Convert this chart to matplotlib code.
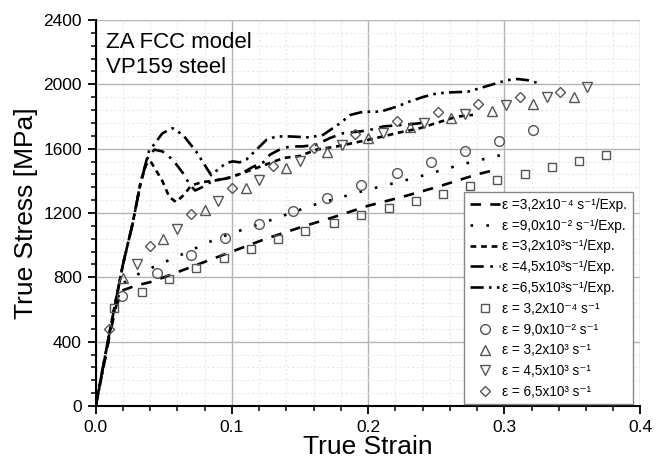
import matplotlib
matplotlib.use("Agg")
import matplotlib.pyplot as plt
from matplotlib.ticker import MultipleLocator, FormatStrFormatter

plt.rcParams['font.family'] = ['Liberation Sans', 'DejaVu Sans']

# ---- experimental curves ----
exp1_x = [0, 0.005, 0.01, 0.015, 0.02, 0.03, 0.04, 0.05, 0.075, 0.1, 0.125, 0.15, 0.175, 0.2, 0.225, 0.25, 0.265, 0.28, 0.295]
exp1_y = [0, 210, 430, 620, 720, 750, 770, 800, 880, 960, 1040, 1110, 1175, 1245, 1300, 1360, 1400, 1440, 1472]

exp2_x = [0, 0.005, 0.01, 0.015, 0.02, 0.025, 0.04, 0.06, 0.09, 0.125, 0.16, 0.2, 0.235, 0.27, 0.3]
exp2_y = [0, 210, 430, 640, 760, 795, 855, 930, 1045, 1145, 1250, 1345, 1420, 1505, 1565]

exp3_x = [0, 0.01, 0.02, 0.027, 0.033, 0.037, 0.040, 0.044, 0.049, 0.054, 0.059, 0.065, 0.07, 0.078, 0.086, 0.093,
          0.1, 0.115, 0.128, 0.138, 0.15, 0.162, 0.177, 0.189, 0.2, 0.211, 0.221, 0.238, 0.251, 0.265, 0.277]
exp3_y = [0, 450, 880, 1130, 1390, 1500, 1525, 1470, 1398, 1300, 1268, 1315, 1370, 1392, 1400, 1410,
          1425, 1470, 1511, 1542, 1555, 1594, 1614, 1635, 1655, 1676, 1697, 1727, 1762, 1799, 1810]

exp4_x = [0, 0.01, 0.02, 0.027, 0.033, 0.038, 0.043, 0.049, 0.0565, 0.064, 0.069, 0.073, 0.078, 0.086, 0.098,
          0.108, 0.115, 0.123, 0.128, 0.135, 0.1426, 0.152, 0.162, 0.172, 0.182, 0.194, 0.2015, 0.211, 0.221, 0.231, 0.24]
exp4_y = [0, 450, 880, 1130, 1390, 1540, 1594, 1583, 1532, 1449, 1377, 1340, 1360, 1400, 1418,
          1450, 1485, 1515, 1563, 1594, 1614, 1614, 1625, 1666, 1697, 1707, 1717, 1738, 1745, 1752, 1760]

exp5_x = [0, 0.01, 0.02, 0.027, 0.033, 0.039, 0.049, 0.0565, 0.064, 0.0737, 0.0848, 0.091, 0.096, 0.1007, 0.1057,
          0.1106, 0.118, 0.1254, 0.1327, 0.1426, 0.157, 0.167, 0.1794, 0.187, 0.1966, 0.209, 0.221, 0.231, 0.241,
          0.2507, 0.2605, 0.273, 0.28, 0.29, 0.302, 0.3097, 0.317, 0.3257]
exp5_y = [0, 450, 880, 1130, 1390, 1583, 1696, 1727, 1686, 1583, 1435, 1480, 1511, 1521, 1515,
          1532, 1594, 1655, 1676, 1676, 1670, 1686, 1758, 1810, 1830, 1830, 1861, 1895, 1923,
          1944, 1950, 1954, 1971, 1996, 2026, 2033, 2026, 2006]

# ---- model points ----
sq_x = [0.0135, 0.034, 0.054, 0.074, 0.094, 0.114, 0.134, 0.154, 0.175, 0.195, 0.215, 0.235, 0.255, 0.275, 0.295, 0.315, 0.335, 0.355, 0.375]
sq_y = [610, 707, 790, 858, 923, 979, 1037, 1086, 1138, 1187, 1233, 1277, 1321, 1365, 1404, 1445, 1486, 1521, 1560]
ci_x = [0.0196, 0.045, 0.0698, 0.0948, 0.120, 0.145, 0.170, 0.195, 0.221, 0.246, 0.271, 0.296, 0.321]
ci_y = [682, 824, 938, 1043, 1130, 1212, 1294, 1375, 1447, 1515, 1583, 1649, 1715]
tu_x = [0.020, 0.0496, 0.0799, 0.110, 0.140, 0.170, 0.200, 0.2306, 0.261, 0.291, 0.321, 0.351]
tu_y = [794, 1037, 1216, 1356, 1480, 1579, 1666, 1732, 1789, 1835, 1878, 1919]
td_x = [0.030, 0.0597, 0.090, 0.120, 0.150, 0.1807, 0.211, 0.241, 0.271, 0.301, 0.331, 0.361]
td_y = [882, 1103, 1274, 1408, 1521, 1620, 1697, 1758, 1816, 1872, 1923, 1981]
di_x = [0.0098, 0.0398, 0.070, 0.100, 0.130, 0.160, 0.1905, 0.221, 0.251, 0.281, 0.3115, 0.341]
di_y = [480, 996, 1196, 1356, 1494, 1604, 1693, 1769, 1831, 1878, 1919, 1954]

exp_labels = ["ε =3,2x10⁻⁴ s⁻¹/Exp.",
              "ε =9,0x10⁻² s⁻¹/Exp.",
              "ε =3,2x10³s⁻¹/Exp.",
              "ε =4,5x10³s⁻¹/Exp.",
              "ε =6,5x10³s⁻¹/Exp."]
mod_labels = ["ε = 3,2x10⁻⁴ s⁻¹",
              "ε = 9,0x10⁻² s⁻¹",
              "ε = 3,2x10³ s⁻¹",
              "ε = 4,5x10³ s⁻¹",
              "ε = 6,5x10³ s⁻¹"]

fig = plt.figure(figsize=(6.66, 4.59), dpi=100)
ax = fig.add_axes([0.1437, 0.1155, 0.9617 - 0.1437, 0.9564 - 0.1155])

lw = 1.9
ax.plot(exp1_x, exp1_y, color='black', lw=lw, linestyle=(0, (4, 3.5)), label=exp_labels[0], zorder=3)
ax.plot(exp2_x, exp2_y, color='black', lw=lw, linestyle=(0, (1, 5)), label=exp_labels[1], zorder=3)
ax.plot(exp3_x, exp3_y, color='black', lw=lw, linestyle=(0, (2.2, 1.8)), label=exp_labels[2], zorder=3)
ax.plot(exp4_x, exp4_y, color='black', lw=lw, linestyle=(0, (5, 2.5, 1, 2.5)), label=exp_labels[3], zorder=3)
ax.plot(exp5_x, exp5_y, color='black', lw=lw, linestyle=(0, (5, 2, 1, 2, 1, 2)), label=exp_labels[4], zorder=3)

mk = dict(linestyle='none', markerfacecolor='none', markeredgecolor='#555555', markeredgewidth=1.0, zorder=4)
ax.plot(sq_x, sq_y, marker='s', markersize=5.5, label=mod_labels[0], **mk)
ax.plot(ci_x, ci_y, marker='o', markersize=7, label=mod_labels[1], **mk)
ax.plot(tu_x, tu_y, marker='^', markersize=7.5, label=mod_labels[2], **mk)
ax.plot(td_x, td_y, marker='v', markersize=7.5, label=mod_labels[3], **mk)
ax.plot(di_x, di_y, marker='D', markersize=5.5, label=mod_labels[4], **mk)

ax.set_xlim(0, 0.4)
ax.set_ylim(0, 2400)
ax.xaxis.set_major_locator(MultipleLocator(0.1))
ax.xaxis.set_minor_locator(MultipleLocator(0.02))
ax.yaxis.set_major_locator(MultipleLocator(400))
ax.yaxis.set_minor_locator(MultipleLocator(80))
ax.xaxis.set_major_formatter(FormatStrFormatter('%.1f'))

ax.grid(which='major', color='#b5b5b5', lw=1.0, zorder=0)
ax.grid(which='minor', color='#e8e8e8', lw=0.8, linestyle=(0, (2, 2)), zorder=0)
ax.set_axisbelow(True)

for s in ['top', 'right']:
    ax.spines[s].set_visible(False)
for s in ['left', 'bottom']:
    ax.spines[s].set_linewidth(1.5)
ax.tick_params(which='major', direction='out', length=6, width=1.3, labelsize=12.5, pad=4)
ax.tick_params(which='minor', direction='out', length=3.5, width=1.1)

ax.set_xlabel('True Strain', fontsize=19, labelpad=0)
ax.set_ylabel('True Stress [MPa]', fontsize=19, labelpad=4)

ax.text(0.019, 0.97, 'ZA FCC model\nVP159 steel', transform=ax.transAxes,
        fontsize=16, va='top', ha='left', linespacing=1.3)

leg = ax.legend(loc='lower right', bbox_to_anchor=(0.986, 0.004), borderaxespad=0,
                fontsize=9.8, frameon=True, fancybox=False, handlelength=2.2,
                labelspacing=0.5, handletextpad=0.2, borderpad=0.4)
leg.get_frame().set_edgecolor('#888888')
leg.get_frame().set_linewidth(1.0)
leg.get_frame().set_alpha(1.0)

fig.savefig('out.png', dpi=100)
